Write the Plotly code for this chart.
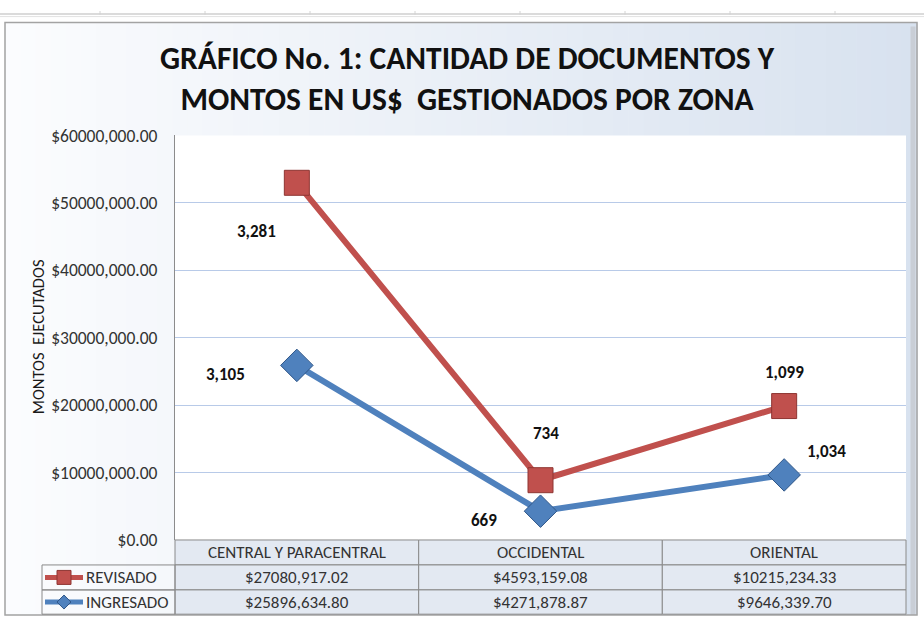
import plotly.graph_objects as go

# ---------------- data ----------------
zonas = ["CENTRAL Y PARACENTRAL", "OCCIDENTAL", "ORIENTAL"]
series_names = ["REVISADO", "INGRESADO"]
revisado_monto = [27080917.02, 4593159.08, 10215234.33]
ingresado_monto = [25896634.80, 4271878.87, 9646339.70]
revisado_docs = [3281, 734, 1099]
ingresado_docs = [3105, 669, 1034]
y_ticks = [0, 10000000, 20000000, 30000000, 40000000, 50000000, 60000000]
titulo = "GRÁFICO No. 1: CANTIDAD DE DOCUMENTOS Y<br>MONTOS EN US$  GESTIONADOS POR ZONA"
y_titulo = "MONTOS  EJECUTADOS"

# ---------------- helpers ----------------
W, H = 924, 626
SY, OY = 0.966, 10.4   # observed vertical mapping of the photographed page


def fx(x):
    return x / W


def fy(y):
    yd = (y - OY) / SY
    yd = min(max(yd, 0), H)
    return 1 - yd / H


def money(v):
    s = f"{v:.2f}"
    ip, dp = s.split(".")
    if len(ip) > 3:
        ip = ip[:-3] + "," + ip[-3:]
    return f"${ip}.{dp}"


FONT = "Carlito, Lato, 'Open Sans', sans-serif"
RED = "#c0504d"
RED_D = "#8e3532"
BLUE = "#4f81bd"
BLUE_D = "#2f5688"
TXT = "#333333"

PL, PR, PT, PB = 175, 906, 135, 540
COLS = [175, 418.7, 662.3, 906]
ROWS = [540, 565, 590, 614.3]

fig = go.Figure()

fig.add_trace(go.Scatter(
    x=zonas, y=ingresado_monto, name=series_names[1], stackgroup="m", fill="none",
    mode="lines+markers", line=dict(color=BLUE, width=6),
    marker=dict(symbol="diamond", size=25, color=BLUE, line=dict(color=BLUE_D, width=1)),
))
fig.add_trace(go.Scatter(
    x=zonas, y=revisado_monto, name=series_names[0], stackgroup="m", fill="none",
    mode="lines+markers", line=dict(color=RED, width=6),
    marker=dict(symbol="square", size=25, color=RED, line=dict(color=RED_D, width=1)),
))

shapes = []
# spreadsheet strip at top
for cx in [100, 205, 310, 415, 520, 625, 730, 835]:
    shapes.append(dict(type="line", xref="paper", yref="paper", x0=fx(cx), x1=fx(cx),
                       y0=fy(8), y1=fy(14), line=dict(color="#d4d4d4", width=1), layer="below"))
shapes.append(dict(type="line", xref="paper", yref="paper", x0=0, x1=1, y0=fy(13.5), y1=fy(13.5),
                   line=dict(color="#cfcfcf", width=1.5), layer="below"))
shapes.append(dict(type="line", xref="paper", yref="paper", x0=0, x1=1, y0=fy(16), y1=fy(16),
                   line=dict(color="#e2e2e2", width=1), layer="below"))

# chart area gradient background
X0, X1, Y0, Y1 = 5, 917, 22, 615.6
n = 60
c0 = (251, 252, 254)
c1 = (216, 226, 239)
for i in range(n):
    t = i / (n - 1)
    c = tuple(round(c0[k] + (c1[k] - c0[k]) * t) for k in range(3))
    xa = X0 + (X1 - X0) * i / n
    xb = X0 + (X1 - X0) * (i + 1) / n + 0.6
    shapes.append(dict(type="rect", xref="paper", yref="paper", x0=fx(xa), x1=fx(xb),
                       y0=fy(Y1), y1=fy(Y0), fillcolor="rgb(%d,%d,%d)" % c,
                       line=dict(width=0), layer="below"))
# frame
shapes.append(dict(type="line", xref="paper", yref="paper", x0=fx(X1 - 4), x1=fx(X1 - 4), y0=fy(Y1), y1=fy(Y0 + 4),
                   line=dict(color="#c9ced6", width=5), layer="below"))
shapes.append(dict(type="rect", xref="paper", yref="paper", x0=fx(X0), x1=fx(X1), y0=fy(Y1), y1=fy(Y0),
                   line=dict(color="#a3a3a3", width=1.5), layer="below"))
# plot area white
shapes.append(dict(type="rect", xref="paper", yref="paper", x0=fx(PL), x1=fx(PR), y0=fy(PB), y1=fy(PT),
                   fillcolor="white", line=dict(width=0), layer="below"))

# data table cells
CELL = "#e3e9f2"
BORDER = "#8a8a8a"
for r in range(3):
    for c in range(3):
        shapes.append(dict(type="rect", xref="paper", yref="paper",
                           x0=fx(COLS[c]), x1=fx(COLS[c + 1]), y0=fy(ROWS[r + 1]), y1=fy(ROWS[r]),
                           fillcolor=CELL, line=dict(color=BORDER, width=1), layer="below"))
for r in range(1, 3):
    shapes.append(dict(type="rect", xref="paper", yref="paper",
                       x0=fx(42), x1=fx(COLS[0]), y0=fy(ROWS[r + 1]), y1=fy(ROWS[r]),
                       fillcolor="rgba(0,0,0,0)", line=dict(color=BORDER, width=1), layer="below"))

# legend keys inside table
ky = [(ROWS[1] + ROWS[2]) / 2, (ROWS[2] + ROWS[3]) / 2]
shapes.append(dict(type="line", xref="paper", yref="paper", x0=fx(45), x1=fx(83), y0=fy(ky[0]), y1=fy(ky[0]),
                   line=dict(color=RED, width=5)))
shapes.append(dict(type="rect", xref="paper", yref="paper", x0=fx(57), x1=fx(71), y0=fy(ky[0] + 7), y1=fy(ky[0] - 7),
                   fillcolor=RED, line=dict(color=RED_D, width=1)))
shapes.append(dict(type="line", xref="paper", yref="paper", x0=fx(45), x1=fx(83), y0=fy(ky[1]), y1=fy(ky[1]),
                   line=dict(color=BLUE, width=5)))
d = 7
shapes.append(dict(type="path", xref="paper", yref="paper",
                   path="M %f,%f L %f,%f L %f,%f L %f,%f Z" % (
                       fx(64), fy(ky[1] - d), fx(64 + d), fy(ky[1]), fx(64), fy(ky[1] + d), fx(64 - d), fy(ky[1])),
                   fillcolor=BLUE, line=dict(color=BLUE_D, width=1)))

annotations = []


def ann(text, x, y, size, color=TXT, xanchor="center", **kw):
    annotations.append(dict(text=text, xref="paper", yref="paper", x=x, y=y, showarrow=False,
                            xanchor=xanchor, yanchor="middle",
                            font=dict(family=FONT, size=size, color=color), **kw))


ann("<b>" + titulo + "</b>", fx(467), fy(77.5), 31.5, "#111111", align="center")
ann(y_titulo, fx(38), fy(337), 16.5, "#1a1a1a", textangle=-90)
for c, z in enumerate(zonas):
    cx = fx((COLS[c] + COLS[c + 1]) / 2)
    ann(z, cx, fy((ROWS[0] + ROWS[1]) / 2), 17)
    ann(money(revisado_monto[c]), cx, fy(ky[0]), 17)
    ann(money(ingresado_monto[c]), cx, fy(ky[1]), 17)
for k, nm in enumerate(series_names):
    ann(nm, fx(84), fy(ky[k]), 17, xanchor="left")

# data labels (document counts)
rev_off = [(-40, -47), (5, 45), (0, 32)]
ing_off = [(-71, -9), (-57, -9), (42, 23)]
for i, z in enumerate(zonas):
    ing_y = ingresado_monto[i]
    rev_y = ingresado_monto[i] + revisado_monto[i]
    for txt, yv, off in [(revisado_docs[i], rev_y, rev_off[i]), (ingresado_docs[i], ing_y, ing_off[i])]:
        annotations.append(dict(text="<b>{:,}</b>".format(txt), x=z, y=yv, xref="x", yref="y",
                                showarrow=False, xshift=off[0], yshift=off[1] / SY,
                                xanchor="center", yanchor="middle",
                                font=dict(family=FONT, size=17, color="#111111")))

fig.update_layout(
    width=W, height=H, margin=dict(l=0, r=0, t=0, b=0),
    paper_bgcolor="white", plot_bgcolor="rgba(0,0,0,0)",
    showlegend=False, shapes=shapes, annotations=annotations,
    xaxis=dict(domain=[fx(PL), fx(PR)], range=[-0.5, 2.5], showticklabels=False, showgrid=False,
               zeroline=False, showline=False, fixedrange=True),
    yaxis=dict(domain=[fy(PB), fy(PT)], range=[0, 60000000], tickvals=y_ticks,
               ticktext=[money(v) for v in y_ticks], showgrid=True, gridcolor="#b8cae8", gridwidth=1,
               zeroline=False, showline=True, linecolor="#8c8c8c", linewidth=1, ticks="",
               ticklabelstandoff=13, tickfont=dict(family=FONT, size=17.5, color=TXT), fixedrange=True),
)

fig.write_html(
    "out.html", config={"displayModeBar": False},
    post_script=("var d=document.getElementById('{plot_id}');"
                 "d.style.position='fixed';d.style.top='0px';d.style.left='0px';"
                 "document.body.style.margin='0px';document.body.style.overflow='hidden';"),
)
